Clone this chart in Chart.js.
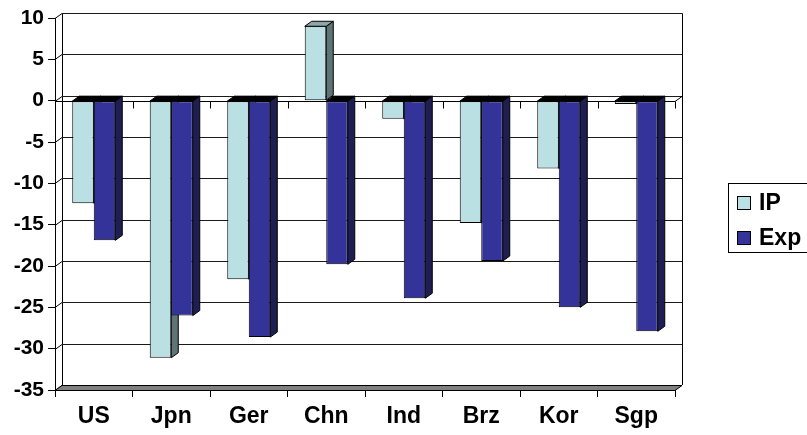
<!DOCTYPE html>
<html>
<head>
<meta charset="utf-8">
<script src="https://cdn.jsdelivr.net/npm/chart.js@4"></script>
<style>
html,body{margin:0;padding:0;background:#fff;}
#wrap{width:807px;height:435px;position:relative;}
</style>
</head>
<body>
<div id="wrap"><canvas id="c"></canvas></div>
<script>
const categories = ['US','Jpn','Ger','Chn','Ind','Brz','Kor','Sgp'];
const ipValues  = [-12.4, -31.1, -21.6, 9.0, -2.2, -14.8, -8.2, -0.4];
const expValues = [-16.9, -26.0, -28.6, -19.8, -23.9, -19.4, -25.0, -27.9];
const seriesNames = ['IP', 'Exp'];
const yMin = -35, yMax = 10, yStep = 5;

const FONT = '"Liberation Sans", Arial, sans-serif';
const DX = 7, DY = -5;       // depth offset of the 3D effect
const styles = [
  {front:'#BBE0E3', side:'#5E7476', topPos:'#8FA6A8', topNeg:'#000000'},
  {front:'#333399', side:'#1E1E52', topPos:'#22225E', topNeg:'#000000'}
];

function poly(ctx, pts, fill, stroke){
  ctx.beginPath();
  ctx.moveTo(pts[0][0], pts[0][1]);
  for (let i=1;i<pts.length;i++) ctx.lineTo(pts[i][0], pts[i][1]);
  ctx.closePath();
  if (fill){ ctx.fillStyle = fill; ctx.fill(); }
  if (stroke){ ctx.strokeStyle = stroke; ctx.lineWidth = 1; ctx.stroke(); }
}

const wallPlugin = {
  id: 'wall3d',
  beforeDatasetsDraw(chart){
    const ctx = chart.ctx, a = chart.chartArea;
    const ys = chart.scales.y;
    const L = a.left, R = a.right, T = a.top, B = a.bottom;
    ctx.save();
    ctx.lineWidth = 1;
    ctx.strokeStyle = '#000';
    ctx.beginPath();
    ctx.moveTo(L+DX+0.5, B+DY); ctx.lineTo(L+DX+0.5, T+DY+0.5);
    ctx.lineTo(R+DX+0.5, T+DY+0.5); ctx.lineTo(R+DX+0.5, B+DY);
    ctx.stroke();
    for (let v = yMin; v <= yMax; v += yStep){
      const y = Math.round(ys.getPixelForValue(v)) + 0.5;
      ctx.strokeStyle = '#1a1a1a';
      ctx.beginPath();
      ctx.moveTo(L+DX, y+DY); ctx.lineTo(R+DX, y+DY);
      ctx.stroke();
      ctx.strokeStyle = '#000';
      ctx.beginPath();
      ctx.moveTo(L, y); ctx.lineTo(L+DX, y+DY);
      ctx.stroke();
    }
    const yb = Math.round(ys.getPixelForValue(yMin)) + 0.5;
    poly(ctx, [[L,yb],[R,yb],[R+DX,yb+DY],[L+DX,yb+DY]], '#808080', '#000');
    const y0 = Math.round(ys.getPixelForValue(0)) + 0.5;
    ctx.strokeStyle = '#000';
    ctx.beginPath();
    ctx.moveTo(L, y0); ctx.lineTo(R, y0);
    ctx.moveTo(R, y0); ctx.lineTo(R+DX, y0+DY);
    const n = categories.length;
    for (let i=0;i<=n;i++){
      const x = Math.round(L + (R-L)*i/n) + 0.5;
      ctx.moveTo(x, y0); ctx.lineTo(x, y0+7);
    }
    ctx.stroke();
    chart.data.datasets.forEach((ds, di) => {
      const meta = chart.getDatasetMeta(di);
      const st = styles[di];
      meta.data.forEach((el, i) => {
        const p = el.getProps(['x','y','base','width'], true);
        const left = p.x - p.width/2, right = p.x + p.width/2;
        const top = Math.min(p.y, p.base), bot = Math.max(p.y, p.base);
        const neg = ds.data[i] < 0;
        poly(ctx, [[right,top],[right+DX,top+DY],[right+DX,bot+DY],[right,bot]], st.side, '#000');
        poly(ctx, [[left,top],[left+DX,top+DY],[right+DX,top+DY],[right,top]], neg ? st.topNeg : st.topPos, '#000');
      });
    });
    ctx.restore();
  },
  afterDraw(chart){
    const ctx = chart.ctx;
    ctx.save();
    ctx.strokeStyle = '#000';
    ctx.lineWidth = 1;
    ctx.strokeRect(728.5, 183.5, 90, 69);
    const items = [{y:196, st:styles[0]}, {y:231, st:styles[1]}];
    ctx.font = 'bold 23px ' + FONT;
    ctx.textBaseline = 'middle';
    items.forEach((it, k) => {
      ctx.fillStyle = it.st.front;
      ctx.fillRect(737.5, it.y+0.5, 13, 13);
      ctx.strokeRect(737.5, it.y+0.5, 13, 13);
      ctx.fillStyle = '#000';
      ctx.fillText(seriesNames[k], 759, it.y + 8);
    });
    ctx.restore();
  }
};

new Chart(document.getElementById('c'), {
  type: 'bar',
  data: {
    labels: categories,
    datasets: [
      {label: seriesNames[0], data: ipValues, backgroundColor: styles[0].front, borderColor: '#000', borderWidth: 1, borderSkipped: false},
      {label: seriesNames[1], data: expValues, backgroundColor: styles[1].front, borderColor: '#000', borderWidth: 1, borderSkipped: false}
    ]
  },
  options: {
    responsive: true,
    maintainAspectRatio: false,
    animation: false,
    devicePixelRatio: 1,
    layout: {padding: {top: 18, right: 132, left: 0, bottom: 0}},
    plugins: {legend: {display: false}, tooltip: {enabled: false}},
    datasets: {bar: {categoryPercentage: 0.555, barPercentage: 1.0}},
    scales: {
      x: {
        grid: {offset: true, drawOnChartArea: false, drawTicks: true, tickLength: 7, color: '#000'},
        border: {display: true, color: '#000'},
        ticks: {color: '#000', font: {family: FONT, size: 23, weight: 'bold'}, padding: 6, maxRotation: 0},
        afterFit(s){ s.height = 45; }
      },
      y: {
        min: yMin, max: yMax,
        grid: {drawOnChartArea: false, drawTicks: true, tickLength: 7, color: '#000'},
        border: {display: true, color: '#000'},
        ticks: {stepSize: yStep, color: '#000', font: {family: FONT, size: 21, weight: 'bold'}, padding: 4},
        afterFit(s){ s.width = 55; }
      }
    }
  },
  plugins: [wallPlugin]
});
</script>
</body>
</html>
